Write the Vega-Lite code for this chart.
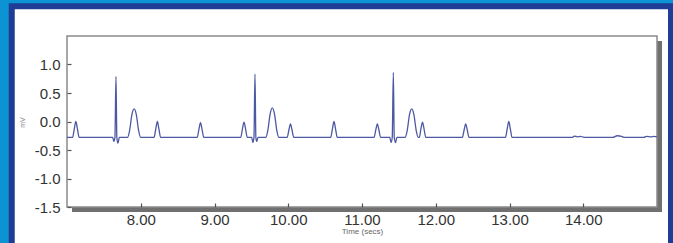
{
  "$schema": "https://vega.github.io/schema/vega-lite/v6.json",
  "width": 590,
  "height": 171,
  "autosize": {"type": "none"},
  "padding": {"left": 67, "top": 36, "right": 16, "bottom": 36},
  "background": "#0b93d3",
  "config": {
    "view": {"stroke": null},
    "axis": {
      "domain": false, "grid": false,
      "tickSize": -4, "tickColor": "#555555", "tickWidth": 1.2,
      "labelFont": "Liberation Sans", "labelFontSize": 15, "labelColor": "#333333",
      "titleFont": "Liberation Sans", "titleFontWeight": "normal"
    },
    "axisX": {"labelPadding": 9, "titleFontSize": 8, "titleColor": "#666666", "titleY": 24, "titleBaseline": "middle"},
    "axisY": {"labelPadding": 11, "titleFontSize": 7, "titleColor": "#888888", "titleX": -45, "titleY": 86, "titleBaseline": "middle", "labelExpr": "replace(format(datum.value, '.1f'), '\u2212', '-')"}
  },
  "layer": [
    {
      "data": {"values": [{}]},
      "mark": {"type": "rect", "fill": "#ffffff", "stroke": "#1f3d95", "strokeWidth": 6},
      "encoding": {
        "x": {"datum": 6.2508, "scale": {"domain": [7, 15], "nice": false, "zero": false}, "axis": {"title": "Time (secs)", "values": [8, 9, 10, 11, 12, 13, 14], "format": ".2f", "zindex": 2}},
        "x2": {"datum": 15.19},
        "y": {"datum": 2.02, "scale": {"domain": [-1.5, 1.5], "nice": false, "zero": false}, "axis": {"title": "mV", "values": [-1.5, -1, -0.5, 0, 0.5, 1], "format": ".1f", "zindex": 2}},
        "y2": {"datum": -2.4}
      }
    },
    {
      "data": {"values": [{}]},
      "mark": {"type": "rect", "fill": "#707070", "xOffset": 5, "x2Offset": 5, "yOffset": 5, "y2Offset": 5},
      "encoding": {
        "x": {"datum": 7, "scale": {"domain": [7, 15], "nice": false, "zero": false}, "axis": {"title": "Time (secs)", "values": [8, 9, 10, 11, 12, 13, 14], "format": ".2f", "zindex": 2}},
        "x2": {"datum": 15},
        "y": {"datum": -1.5, "scale": {"domain": [-1.5, 1.5], "nice": false, "zero": false}, "axis": {"title": "mV", "values": [-1.5, -1, -0.5, 0, 0.5, 1], "format": ".1f", "zindex": 2}},
        "y2": {"datum": 1.5}
      }
    },
    {
      "data": {"values": [{}]},
      "mark": {"type": "rect", "fill": "#ffffff", "stroke": "#8a8a8a", "strokeWidth": 1.5},
      "encoding": {
        "x": {"datum": 7, "scale": {"domain": [7, 15], "nice": false, "zero": false}, "axis": {"title": "Time (secs)", "values": [8, 9, 10, 11, 12, 13, 14], "format": ".2f", "zindex": 2}},
        "x2": {"datum": 15},
        "y": {"datum": -1.5, "scale": {"domain": [-1.5, 1.5], "nice": false, "zero": false}, "axis": {"title": "mV", "values": [-1.5, -1, -0.5, 0, 0.5, 1], "format": ".1f", "zindex": 2}},
        "y2": {"datum": 1.5}
      }
    },
    {
      "data": {"values": [
        {"t": 7.0, "mv": -0.28},
        {"t": 7.075, "mv": -0.28}, {"t": 7.1, "mv": -0.12}, {"t": 7.12, "mv": 0.0}, {"t": 7.14, "mv": -0.12}, {"t": 7.165, "mv": -0.28},
        {"t": 7.62, "mv": -0.28}, {"t": 7.635, "mv": -0.35}, {"t": 7.65, "mv": -0.28}, {"t": 7.664, "mv": 0.79}, {"t": 7.676, "mv": -0.28}, {"t": 7.69, "mv": -0.38}, {"t": 7.71, "mv": -0.28},
        {"t": 7.82, "mv": -0.28}, {"t": 7.85, "mv": -0.15}, {"t": 7.88, "mv": 0.12}, {"t": 7.91, "mv": 0.22}, {"t": 7.94, "mv": 0.12}, {"t": 7.97, "mv": -0.15}, {"t": 8.0, "mv": -0.28},
        {"t": 8.18, "mv": -0.28}, {"t": 8.205, "mv": -0.12}, {"t": 8.225, "mv": 0.0}, {"t": 8.245, "mv": -0.12}, {"t": 8.27, "mv": -0.28},
        {"t": 8.765, "mv": -0.28}, {"t": 8.79, "mv": -0.13}, {"t": 8.81, "mv": -0.02}, {"t": 8.83, "mv": -0.13}, {"t": 8.855, "mv": -0.28},
        {"t": 9.355, "mv": -0.28}, {"t": 9.38, "mv": -0.12}, {"t": 9.4, "mv": -0.01}, {"t": 9.42, "mv": -0.12}, {"t": 9.445, "mv": -0.28},
        {"t": 9.505, "mv": -0.28}, {"t": 9.52, "mv": -0.37}, {"t": 9.535, "mv": -0.28}, {"t": 9.549, "mv": 0.83}, {"t": 9.561, "mv": -0.28}, {"t": 9.573, "mv": -0.35}, {"t": 9.59, "mv": -0.28},
        {"t": 9.694, "mv": -0.28}, {"t": 9.724, "mv": -0.15}, {"t": 9.754, "mv": 0.13}, {"t": 9.784, "mv": 0.24}, {"t": 9.814, "mv": 0.13}, {"t": 9.844, "mv": -0.15}, {"t": 9.874, "mv": -0.28},
        {"t": 9.985, "mv": -0.28}, {"t": 10.01, "mv": -0.14}, {"t": 10.03, "mv": -0.04}, {"t": 10.05, "mv": -0.14}, {"t": 10.075, "mv": -0.28},
        {"t": 10.575, "mv": -0.28}, {"t": 10.6, "mv": -0.12}, {"t": 10.62, "mv": 0.0}, {"t": 10.64, "mv": -0.12}, {"t": 10.665, "mv": -0.28},
        {"t": 11.163, "mv": -0.28}, {"t": 11.188, "mv": -0.14}, {"t": 11.208, "mv": -0.04}, {"t": 11.228, "mv": -0.14}, {"t": 11.253, "mv": -0.28},
        {"t": 11.378, "mv": -0.28}, {"t": 11.393, "mv": -0.37}, {"t": 11.41, "mv": -0.28}, {"t": 11.425, "mv": 0.86}, {"t": 11.437, "mv": -0.28}, {"t": 11.455, "mv": -0.37}, {"t": 11.472, "mv": -0.28},
        {"t": 11.584, "mv": -0.28}, {"t": 11.614, "mv": -0.15}, {"t": 11.644, "mv": 0.12}, {"t": 11.674, "mv": 0.22}, {"t": 11.704, "mv": 0.12}, {"t": 11.734, "mv": -0.15}, {"t": 11.764, "mv": -0.28},
        {"t": 11.777, "mv": -0.28}, {"t": 11.8, "mv": -0.12}, {"t": 11.82, "mv": -0.01}, {"t": 11.84, "mv": -0.12}, {"t": 11.865, "mv": -0.28},
        {"t": 12.36, "mv": -0.28}, {"t": 12.386, "mv": -0.14}, {"t": 12.406, "mv": -0.04}, {"t": 12.426, "mv": -0.14}, {"t": 12.451, "mv": -0.28},
        {"t": 12.945, "mv": -0.28}, {"t": 12.97, "mv": -0.12}, {"t": 12.99, "mv": 0.0}, {"t": 13.01, "mv": -0.12}, {"t": 13.035, "mv": -0.28},
        {"t": 13.85, "mv": -0.28}, {"t": 13.88, "mv": -0.255}, {"t": 13.92, "mv": -0.27}, {"t": 13.96, "mv": -0.26}, {"t": 14.0, "mv": -0.275}, {"t": 14.05, "mv": -0.28},
        {"t": 14.4, "mv": -0.28}, {"t": 14.46, "mv": -0.25}, {"t": 14.52, "mv": -0.26}, {"t": 14.56, "mv": -0.28},
        {"t": 14.82, "mv": -0.28}, {"t": 14.86, "mv": -0.26}, {"t": 14.92, "mv": -0.27}, {"t": 14.96, "mv": -0.26}, {"t": 15.0, "mv": -0.27}
      ]},
      "mark": {"type": "line", "interpolate": "monotone", "color": "#4d58a3", "strokeWidth": 1.3},
      "encoding": {
        "x": {
          "field": "t", "type": "quantitative",
          "scale": {"domain": [7, 15], "nice": false, "zero": false},
          "axis": {"title": "Time (secs)", "values": [8, 9, 10, 11, 12, 13, 14], "format": ".2f", "zindex": 2}
        },
        "y": {
          "field": "mv", "type": "quantitative",
          "scale": {"domain": [-1.5, 1.5], "nice": false, "zero": false},
          "axis": {"title": "mV", "values": [-1.5, -1, -0.5, 0, 0.5, 1], "format": ".1f", "zindex": 2}
        }
      }
    }
  ]
}
